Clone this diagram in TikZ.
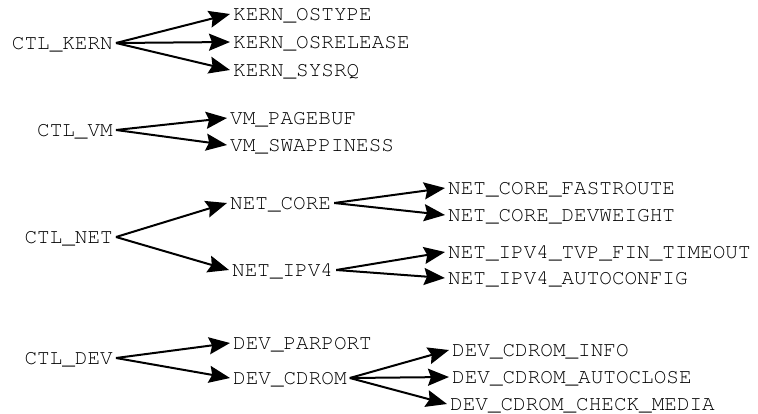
\documentclass[tikz,border=0pt]{standalone}
\usepackage[T1]{fontenc}
\usepackage{courier}
\usepackage{tikz}
\usetikzlibrary{arrows.meta}
\tikzstyle{root} = [anchor=east, font=\ttfamily\fontsize{21}{24}\selectfont, inner sep=3pt, text height=12pt, text depth=0pt]
\tikzstyle{leaf} = [anchor=west, font=\ttfamily\fontsize{21}{24}\selectfont, inner sep=3pt, text height=12pt, text depth=0pt]
\tikzstyle{arrow} = [-{Stealth[length=21pt, width=17pt, inset=3pt]}, line width=2pt]
\begin{document}
\begin{tikzpicture}[x=1pt, y=-1pt]
    \useasboundingbox (0,0) rectangle (758,413);

    % Kernel
    \node[root] (kern) at (116,43) {CTL\_KERN};
    \node[leaf] (ostype) at (230,14) {KERN\_OSTYPE};
    \node[leaf] (osrelease) at (230,42) {KERN\_OSRELEASE};
    \node[leaf] (sysrq) at (230,70) {KERN\_SYSRQ};
    \draw[arrow] (kern.east) -- (ostype.west);
    \draw[arrow] (kern.east) -- (osrelease.west);
    \draw[arrow] (kern.east) -- (sysrq.west);

    % Virtual memory
    \node[root] (vm) at (116,130) {CTL\_VM};
    \node[leaf] (pagebuf) at (227,118) {VM\_PAGEBUF};
    \node[leaf] (swappiness) at (227,145) {VM\_SWAPPINESS};
    \draw[arrow] (vm.east) -- (pagebuf.west);
    \draw[arrow] (vm.east) -- (swappiness.west);

    % Networking
    \node[root] (net) at (116,237) {CTL\_NET};
    \node[leaf] (netcore) at (227,203) {NET\_CORE};
    \node[leaf] (netipv4) at (229,270) {NET\_IPV4};
    \draw[arrow] (net.east) -- (netcore.west);
    \draw[arrow] (net.east) -- (netipv4.west);

    \node[leaf] (fastroute) at (445,188) {NET\_CORE\_FASTROUTE};
    \node[leaf] (devweight) at (445,215) {NET\_CORE\_DEVWEIGHT};
    \draw[arrow] (netcore.east) -- (fastroute.west);
    \draw[arrow] (netcore.east) -- (devweight.west);

    \node[leaf] (fintimeout) at (445,252) {NET\_IPV4\_TVP\_FIN\_TIMEOUT};
    \node[leaf] (autoconfig) at (445,278) {NET\_IPV4\_AUTOCONFIG};
    \draw[arrow] (netipv4.east) -- (fintimeout.west);
    \draw[arrow] (netipv4.east) -- (autoconfig.west);

    % Devices
    \node[root] (dev) at (116,358) {CTL\_DEV};
    \node[leaf] (parport) at (230,343) {DEV\_PARPORT};
    \node[leaf] (cdrom) at (230,378) {DEV\_CDROM};
    \draw[arrow] (dev.east) -- (parport.west);
    \draw[arrow] (dev.east) -- (cdrom.west);

    \node[leaf] (cdinfo) at (449,350) {DEV\_CDROM\_INFO};
    \node[leaf] (autoclose) at (449,377) {DEV\_CDROM\_AUTOCLOSE};
    \node[leaf] (checkmedia) at (447,404) {DEV\_CDROM\_CHECK\_MEDIA};
    \draw[arrow] (cdrom.east) -- (cdinfo.west);
    \draw[arrow] (cdrom.east) -- (autoclose.west);
    \draw[arrow] (cdrom.east) -- (checkmedia.west);
\end{tikzpicture}
\end{document}
